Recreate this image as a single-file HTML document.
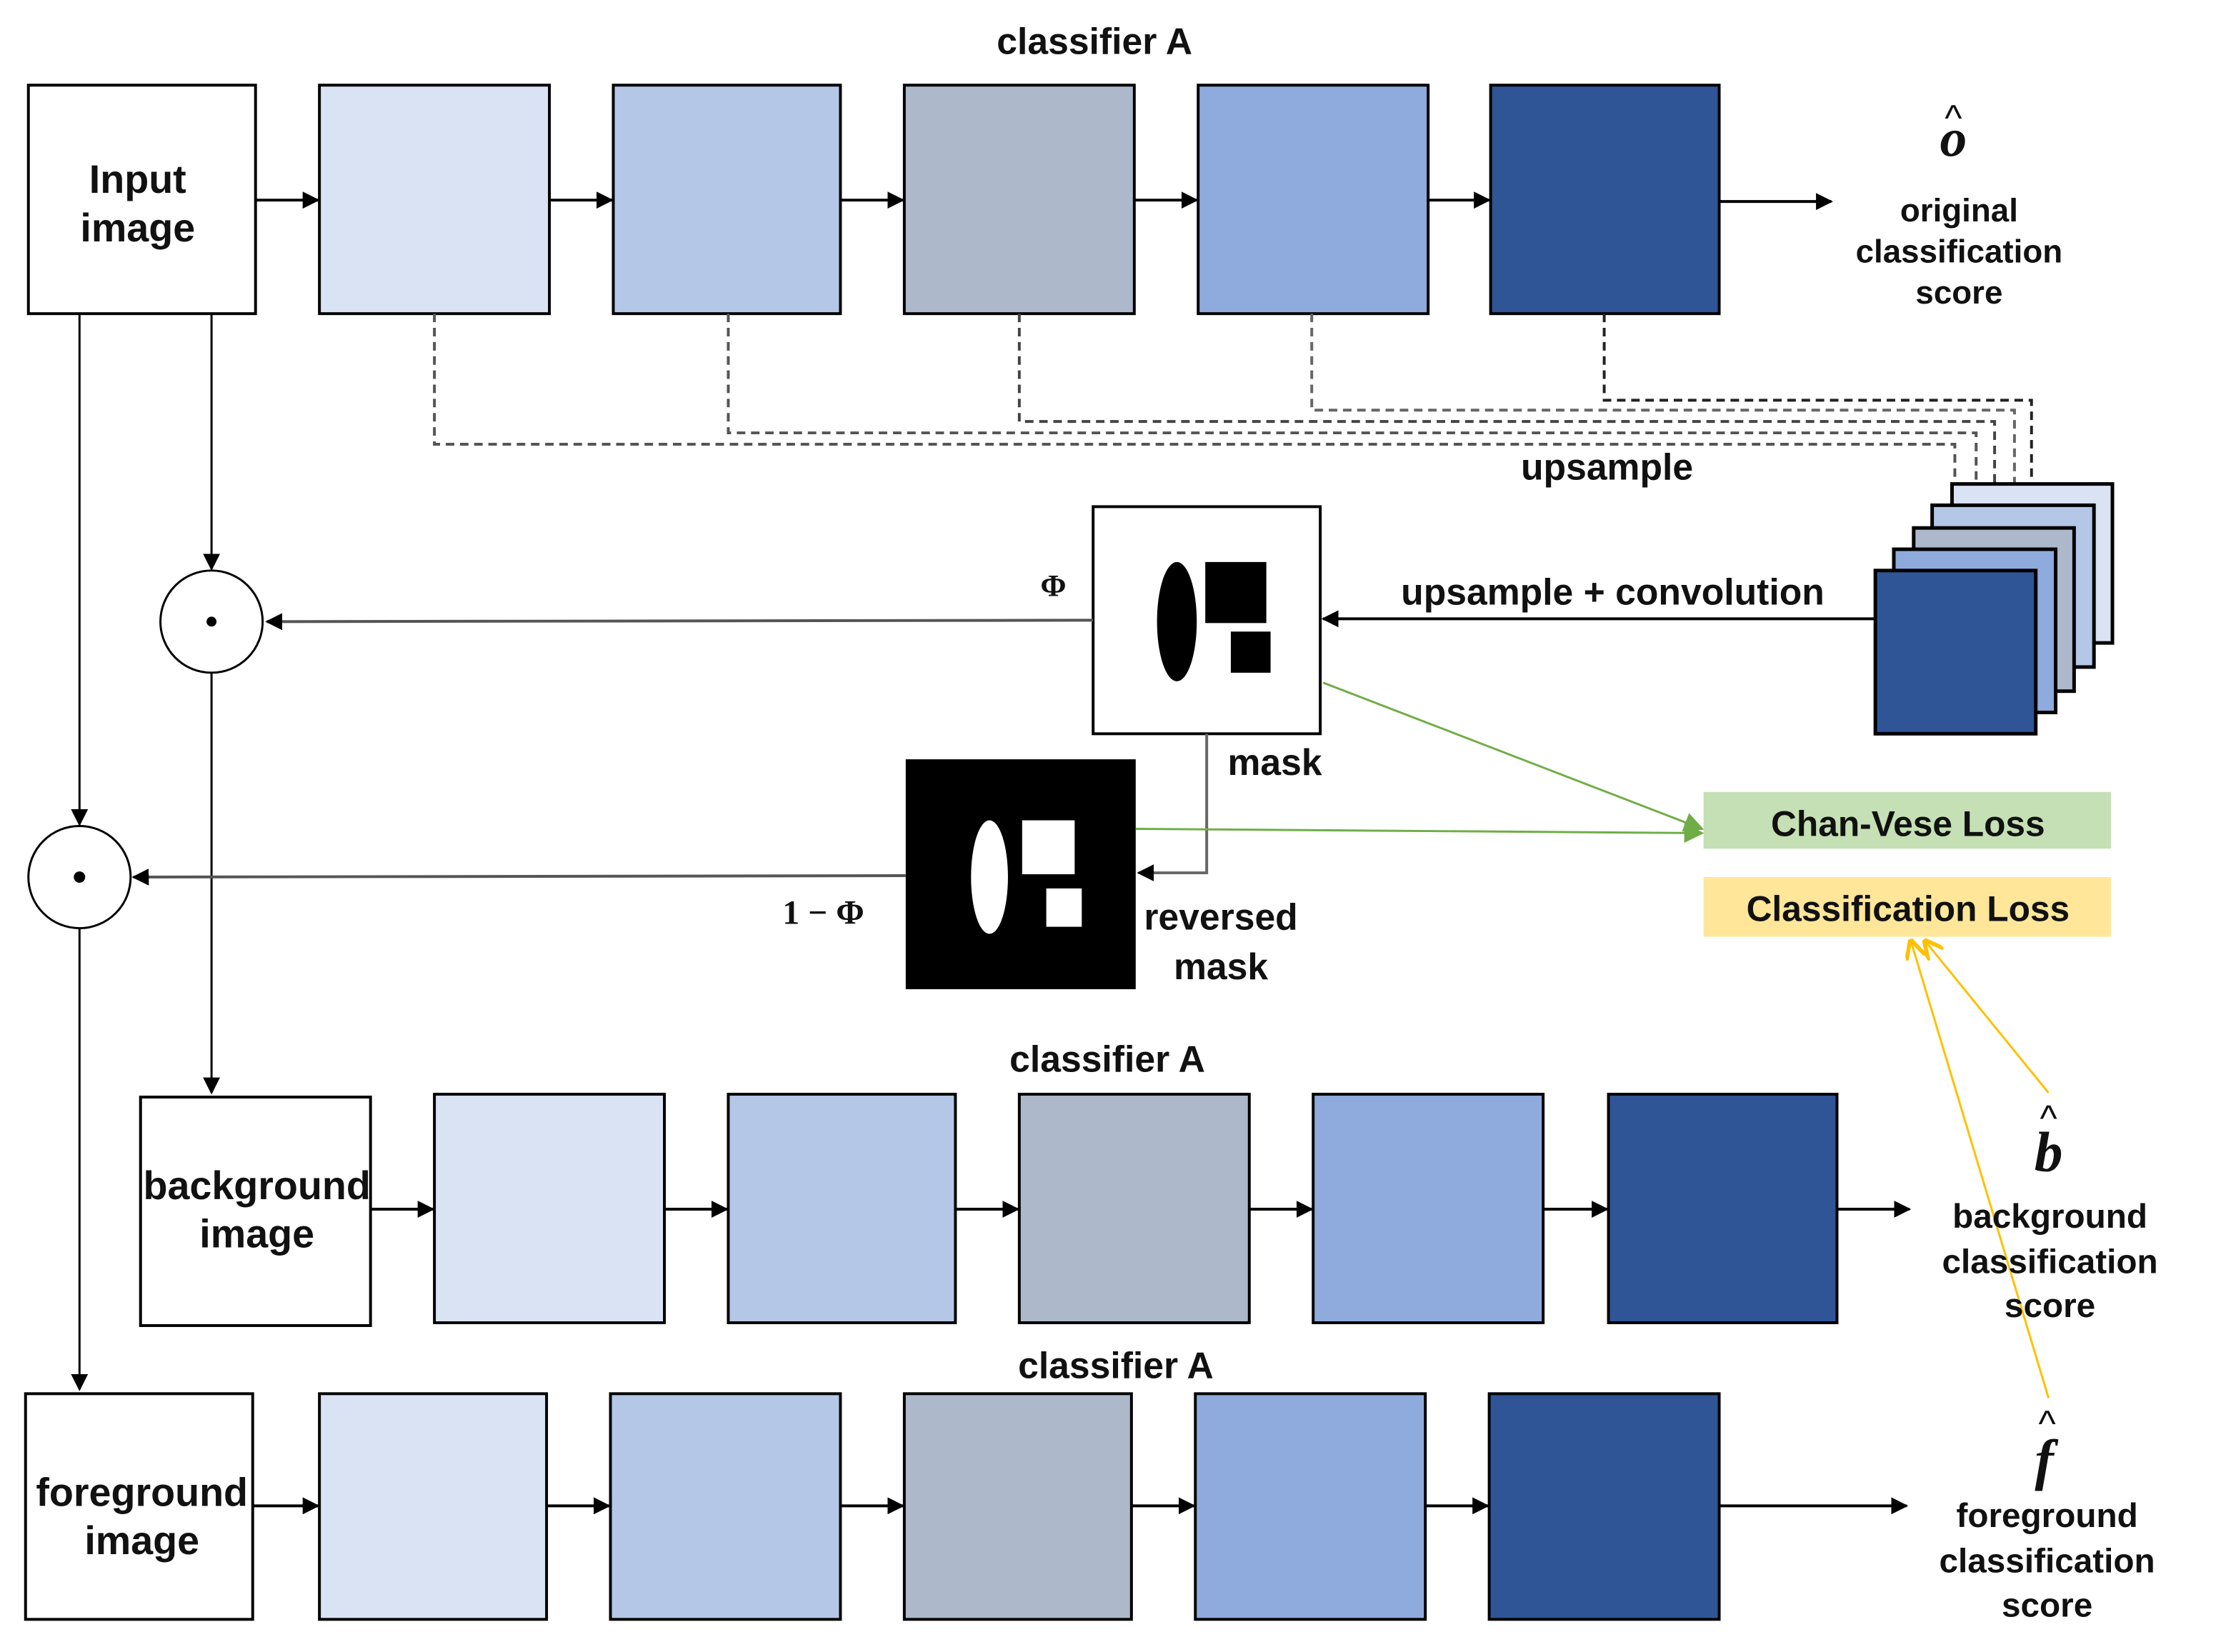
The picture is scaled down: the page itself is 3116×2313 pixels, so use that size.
<!DOCTYPE html>
<html><head><meta charset="utf-8"><style>
html,body{margin:0;padding:0;background:#fff;}
svg{display:block;}
text{font-family:"Liberation Sans",sans-serif;font-weight:bold;fill:#111;}
.m{font-family:"Liberation Serif",serif;font-style:italic;}
</style></head><body>
<svg width="3116" height="2313" viewBox="0 0 1568 1164" preserveAspectRatio="none" xmlns="http://www.w3.org/2000/svg">
<defs>
<marker id="a" viewBox="0 0 10 10" refX="9" refY="5" markerWidth="7" markerHeight="7" orient="auto-start-reverse" markerUnits="userSpaceOnUse"><path d="M0,0L10,5L0,10z" fill="#000"/></marker>
<marker id="a2" viewBox="0 0 10 10" refX="9" refY="5" markerWidth="12" markerHeight="12" orient="auto" markerUnits="userSpaceOnUse"><path d="M0,0L10,5L0,10z" fill="#000"/></marker>
<marker id="g" viewBox="0 0 10 10" refX="9" refY="5" markerWidth="14" markerHeight="14" orient="auto" markerUnits="userSpaceOnUse"><path d="M0,0L10,5L0,10z" fill="#70AD47"/></marker>
<marker id="y" viewBox="0 0 10 10" refX="9" refY="5" markerWidth="14" markerHeight="14" orient="auto" markerUnits="userSpaceOnUse"><path d="M0,0L10,5L0,10" fill="none" stroke="#FFC000" stroke-width="2"/></marker>
</defs>

<!-- top row -->
<text x="771" y="38" font-size="26" text-anchor="middle">classifier A</text>
<rect x="20" y="60" width="160" height="161" fill="#fff" stroke="#000" stroke-width="2"/>
<text x="97" y="136" font-size="28" text-anchor="middle">Input</text>
<text x="97" y="170" font-size="28" text-anchor="middle">image</text>
<g stroke="#000" stroke-width="2">
<rect x="225" y="60" width="162" height="161" fill="#DAE3F3"/>
<rect x="432" y="60" width="160" height="161" fill="#B4C7E7"/>
<rect x="637" y="60" width="162" height="161" fill="#ADB9CA"/>
<rect x="844" y="60" width="162" height="161" fill="#8FAADC"/>
<rect x="1050" y="60" width="161" height="161" fill="#2F5597"/>
</g>
<g stroke="#000" stroke-width="2" marker-end="url(#a2)">
<line x1="180" y1="141" x2="224" y2="141"/><line x1="387" y1="141" x2="431" y2="141"/>
<line x1="592" y1="141" x2="636" y2="141"/><line x1="799" y1="141" x2="843" y2="141"/>
<line x1="1006" y1="141" x2="1049" y2="141"/><line x1="1211" y1="142" x2="1290" y2="142"/>
</g>
<text x="1376" y="110" font-size="38" class="m" text-anchor="middle">o</text>
<text x="1376" y="92" font-size="26" text-anchor="middle" style="font-weight:normal">^</text>
<g font-size="23" text-anchor="middle"><text x="1380" y="156">original</text><text x="1380" y="185">classification</text><text x="1380" y="214">score</text></g>

<!-- dashed -->
<g fill="none" stroke-width="2" stroke-dasharray="6,4">
<polyline points="306,221 306,313 1377,313 1377,402" stroke="#555"/>
<polyline points="513,221 513,305 1392,305 1392,387" stroke="#555"/>
<polyline points="718,221 718,297 1405,297 1405,372" stroke="#444"/>
<polyline points="924,221 924,289 1419,289 1419,356" stroke="#666"/>
<polyline points="1130,221 1130,282 1431,282 1431,341" stroke="#222"/>
</g>
<text x="1132" y="338" font-size="26" text-anchor="middle">upsample</text>

<!-- stack -->
<g stroke="#000" stroke-width="2.5">
<rect x="1375" y="341" width="113" height="112" fill="#DAE3F3"/>
<rect x="1361" y="356" width="114" height="114" fill="#B4C7E7"/>
<rect x="1348" y="372" width="113" height="115" fill="#ADB9CA"/>
<rect x="1334" y="387" width="114" height="115" fill="#8FAADC"/>
<rect x="1321" y="402" width="113" height="115" fill="#2F5597"/>
</g>
<text x="1136" y="426" font-size="26" text-anchor="middle">upsample + convolution</text>
<line x1="1321" y1="436" x2="932" y2="436" stroke="#000" stroke-width="2" marker-end="url(#a2)"/>

<!-- mask -->
<rect x="770" y="357" width="160" height="160" fill="#fff" stroke="#000" stroke-width="2"/>
<ellipse cx="829" cy="438" rx="14" ry="42" fill="#000"/>
<rect x="849" y="396" width="43" height="43" fill="#000"/>
<rect x="867" y="445" width="28" height="29" fill="#000"/>
<text x="742" y="420" font-size="22" text-anchor="middle" style="font-family:'Liberation Serif',serif">Φ</text>
<line x1="770" y1="437" x2="188" y2="438" stroke="#555" stroke-width="2" marker-end="url(#a2)"/>
<text x="898" y="546" font-size="26" text-anchor="middle">mask</text>

<!-- circles -->
<circle cx="149" cy="438" r="36" fill="#fff" stroke="#000" stroke-width="1.5"/>
<circle cx="149" cy="438" r="3.5" fill="#000"/>
<circle cx="56" cy="618" r="36" fill="#fff" stroke="#000" stroke-width="1.5"/>
<circle cx="56" cy="618" r="4" fill="#000"/>
<g stroke="#000" stroke-width="1.5" marker-end="url(#a2)">
<line x1="149" y1="221" x2="149" y2="401"/>
<line x1="56" y1="221" x2="56" y2="581"/>
<line x1="149" y1="474" x2="149" y2="770"/>
<line x1="56" y1="654" x2="56" y2="979"/>
</g>

<!-- reversed mask -->
<rect x="638" y="535" width="162" height="162" fill="#000"/>
<ellipse cx="697" cy="618" rx="13" ry="40" fill="#fff"/>
<rect x="720" y="578" width="37" height="38" fill="#fff"/>
<rect x="737" y="626" width="25" height="27" fill="#fff"/>
<polyline points="850,517 850,615 802,615" fill="none" stroke="#666" stroke-width="2" marker-end="url(#a2)"/>
<line x1="638" y1="617" x2="94" y2="618" stroke="#555" stroke-width="2" marker-end="url(#a2)"/>
<text x="580" y="651" font-size="24" text-anchor="middle" style="font-family:'Liberation Serif',serif">1 − Φ</text>
<text x="860" y="655" font-size="26" text-anchor="middle">reversed</text>
<text x="860" y="690" font-size="26" text-anchor="middle">mask</text>

<!-- losses -->
<rect x="1200" y="558" width="287" height="40" fill="#C5E0B4"/>
<text x="1344" y="589" font-size="25" text-anchor="middle">Chan-Vese Loss</text>
<rect x="1200" y="618" width="287" height="42" fill="#FFE699"/>
<text x="1344" y="649" font-size="25" text-anchor="middle">Classification  Loss</text>
<line x1="932" y1="481" x2="1199" y2="584" stroke="#70AD47" stroke-width="1.5" marker-end="url(#g)"/>
<line x1="800" y1="584" x2="1199" y2="587" stroke="#70AD47" stroke-width="1.5" marker-end="url(#g)"/>
<line x1="1443" y1="770" x2="1356" y2="663" stroke="#FFC000" stroke-width="1.5" marker-end="url(#y)"/>
<line x1="1443" y1="985" x2="1346" y2="663" stroke="#FFC000" stroke-width="1.5" marker-end="url(#y)"/>

<!-- background row -->
<text x="780" y="755" font-size="26" text-anchor="middle">classifier A</text>
<rect x="99" y="773" width="162" height="161" fill="#fff" stroke="#000" stroke-width="2"/>
<text x="181" y="845" font-size="28" text-anchor="middle">background</text>
<text x="181" y="879" font-size="28" text-anchor="middle">image</text>
<g stroke="#000" stroke-width="2">
<rect x="306" y="771" width="162" height="161" fill="#DAE3F3"/>
<rect x="513" y="771" width="160" height="161" fill="#B4C7E7"/>
<rect x="718" y="771" width="162" height="161" fill="#ADB9CA"/>
<rect x="925" y="771" width="162" height="161" fill="#8FAADC"/>
<rect x="1133" y="771" width="161" height="161" fill="#2F5597"/>
</g>
<g stroke="#000" stroke-width="2" marker-end="url(#a2)">
<line x1="261" y1="852" x2="305" y2="852"/><line x1="468" y1="852" x2="512" y2="852"/>
<line x1="673" y1="852" x2="717" y2="852"/><line x1="880" y1="852" x2="924" y2="852"/>
<line x1="1087" y1="852" x2="1132" y2="852"/><line x1="1294" y1="852" x2="1345" y2="852"/>
</g>
<text x="1443" y="825" font-size="40" class="m" text-anchor="middle">b</text>
<text x="1443" y="797" font-size="26" text-anchor="middle" style="font-weight:normal">^</text>
<g font-size="24" text-anchor="middle"><text x="1444" y="865">background</text><text x="1444" y="897">classification</text><text x="1444" y="928">score</text></g>

<!-- foreground row -->
<text x="786" y="971" font-size="26" text-anchor="middle">classifier A</text>
<rect x="18" y="982" width="160" height="159" fill="#fff" stroke="#000" stroke-width="2"/>
<text x="100" y="1061" font-size="28" text-anchor="middle">foreground</text>
<text x="100" y="1095" font-size="28" text-anchor="middle">image</text>
<g stroke="#000" stroke-width="2">
<rect x="225" y="982" width="160" height="159" fill="#DAE3F3"/>
<rect x="430" y="982" width="162" height="159" fill="#B4C7E7"/>
<rect x="637" y="982" width="160" height="159" fill="#ADB9CA"/>
<rect x="842" y="982" width="162" height="159" fill="#8FAADC"/>
<rect x="1049" y="982" width="162" height="159" fill="#2F5597"/>
</g>
<g stroke="#000" stroke-width="2" marker-end="url(#a2)">
<line x1="178" y1="1061" x2="224" y2="1061"/><line x1="385" y1="1061" x2="429" y2="1061"/>
<line x1="592" y1="1061" x2="636" y2="1061"/><line x1="797" y1="1061" x2="841" y2="1061"/>
<line x1="1004" y1="1061" x2="1048" y2="1061"/><line x1="1211" y1="1061" x2="1343" y2="1061"/>
</g>
<text x="1440" y="1042" font-size="40" class="m" text-anchor="middle">f</text>
<text x="1442" y="1012" font-size="26" text-anchor="middle" style="font-weight:normal">^</text>
<g font-size="24" text-anchor="middle"><text x="1442" y="1076">foreground</text><text x="1442" y="1108">classification</text><text x="1442" y="1139">score</text></g>
</svg>
</body></html>
